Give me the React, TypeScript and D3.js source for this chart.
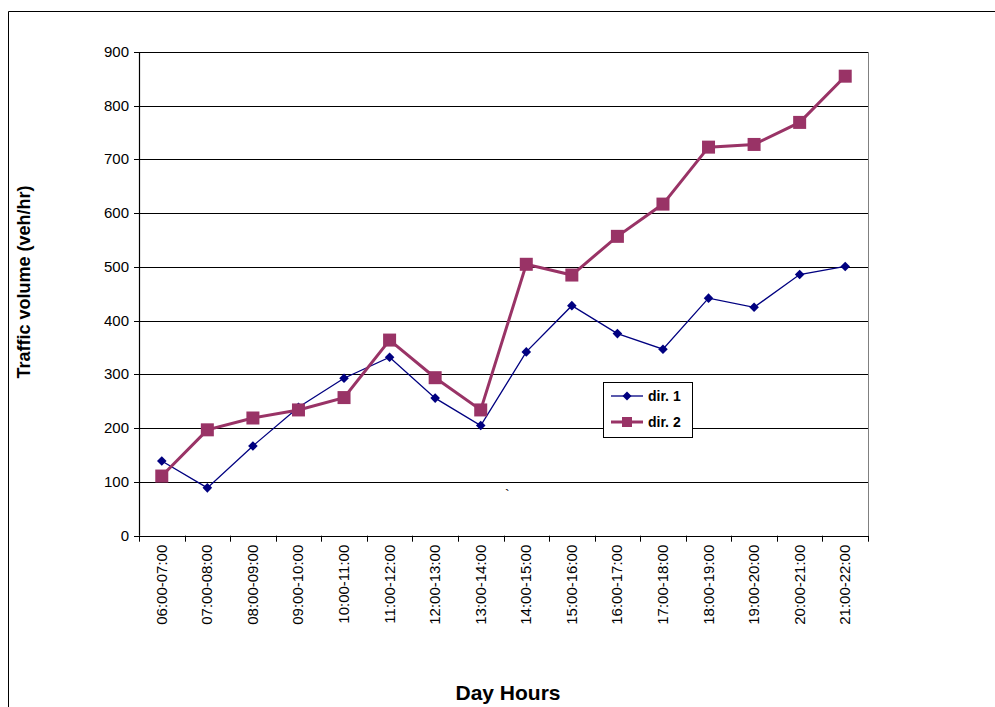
import React from "react";
import * as d3 from "d3";

const categories = [
  "06:00-07:00", "07:00-08:00", "08:00-09:00", "09:00-10:00",
  "10:00-11:00", "11:00-12:00", "12:00-13:00", "13:00-14:00",
  "14:00-15:00", "15:00-16:00", "16:00-17:00", "17:00-18:00",
  "18:00-19:00", "19:00-20:00", "20:00-21:00", "21:00-22:00",
];
const dir1 = [139, 89, 167, 239, 293, 332, 256, 205, 342, 428, 376, 347, 442, 425, 486, 501];
const dir2 = [111, 197, 219, 234, 257, 364, 294, 234, 505, 485, 557, 617, 723, 728, 769, 855];
const yTicks = [0, 100, 200, 300, 400, 500, 600, 700, 800, 900];

const W = 995, H = 707;
const L = 139, R = 868, T = 52, B = 535.7;
const FONT = "'Liberation Sans', Arial, sans-serif";
const C1 = "#000080";
const C2 = "#993366";

export default function App() {
  const x = d3.scaleBand<string>().domain(categories).range([L, R]).padding(0);
  const y = d3.scaleLinear().domain([0, 900]).range([B, T]);
  const cx = (c: string) => (x(c) as number) + x.bandwidth() / 2;
  const line = d3.line<number>().x((_, i) => cx(categories[i])).y((d) => y(d));
  const diamond = (px: number, py: number, r: number) =>
    `M${px},${py - r}L${px + r},${py}L${px},${py + r}L${px - r},${py}Z`;

  return (
    <svg width={W} height={H} style={{ position: "absolute", left: 0, top: 0, fontFamily: FONT }}>
      <rect x={0} y={0} width={W} height={H} fill="#fff" />
      {/* outer chart frame */}
      <line x1={8.5} y1={11.5} x2={W} y2={11.5} stroke="#000" strokeWidth={1} />
      <line x1={8.5} y1={11.5} x2={8.5} y2={H} stroke="#000" strokeWidth={1} />

      {/* gridlines */}
      {yTicks.filter((t) => t > 0).map((t) => (
        <line key={t} x1={L} x2={R} y1={Math.round(y(t)) + 0.5} y2={Math.round(y(t)) + 0.5} stroke="#000" strokeWidth={1} />
      ))}
      {/* right border */}
      <line x1={R + 0.5} x2={R + 0.5} y1={y(900)} y2={B} stroke="#808080" strokeWidth={1} />

      {/* y axis */}
      <line x1={L + 0.5} x2={L + 0.5} y1={y(900)} y2={B} stroke="#000" strokeWidth={1.2} />
      {yTicks.map((t) => (
        <g key={t}>
          <line x1={L - 5} x2={L} y1={Math.round(y(t)) + 0.5} y2={Math.round(y(t)) + 0.5} stroke="#000" />
          <text x={L - 10} y={y(t) + 5} textAnchor="end" fontSize={15} fill="#000">{t}</text>
        </g>
      ))}

      {/* x axis */}
      <line x1={L} x2={R + 1} y1={Math.round(B) + 0.5} y2={Math.round(B) + 0.5} stroke="#000" strokeWidth={1.2} />
      {categories.map((c, i) => (
        <line key={"t" + i} x1={Math.round((x(c) as number) + x.bandwidth()) + 0.5} x2={Math.round((x(c) as number) + x.bandwidth()) + 0.5}
          y1={B} y2={B + 6} stroke="#000" />
      ))}
      <line x1={L + 0.5} x2={L + 0.5} y1={B} y2={B + 6} stroke="#000" />
      {categories.map((c) => (
        <text key={c} transform={`translate(${cx(c) + 5},${B + 9}) rotate(-90)`} textAnchor="end"
          fontSize={15} fill="#000">{c}</text>
      ))}

      {/* series dir. 1 */}
      <path d={line(dir1) || ""} fill="none" stroke={C1} strokeWidth={1.3} />
      {dir1.map((v, i) => (
        <path key={"d" + i} d={diamond(cx(categories[i]), y(v), 4.8)} fill={C1} />
      ))}

      {/* series dir. 2 */}
      <path d={line(dir2) || ""} fill="none" stroke={C2} strokeWidth={3} />
      {dir2.map((v, i) => (
        <rect key={"s" + i} x={cx(categories[i]) - 6.5} y={y(v) - 6.5} width={13} height={13} fill={C2} />
      ))}

      {/* stray mark */}
      <text x={505} y={500} fontSize={14} fill="#000">`</text>

      {/* legend */}
      <rect x={603.5} y={382.5} width={89} height={55} fill="#fff" stroke="#000" strokeWidth={1} />
      <line x1={611} x2={643} y1={396} y2={396} stroke={C1} strokeWidth={1.3} />
      <path d={diamond(627, 396, 4.5)} fill={C1} />
      <text x={648} y={401} fontSize={14} fontWeight="bold" fill="#000">dir. 1</text>
      <line x1={611} x2={643} y1={422} y2={422} stroke={C2} strokeWidth={3} />
      <rect x={622} y={417} width={10} height={10} fill={C2} />
      <text x={648} y={427} fontSize={14} fontWeight="bold" fill="#000">dir. 2</text>

      {/* axis titles */}
      <text transform={`translate(30,282) rotate(-90)`} textAnchor="middle" fontSize={18} fontWeight="bold" fill="#000">
        Traffic volume (veh/hr)
      </text>
      <text x={508} y={700} textAnchor="middle" fontSize={21} fontWeight="bold" fill="#000">Day Hours</text>
    </svg>
  );
}
